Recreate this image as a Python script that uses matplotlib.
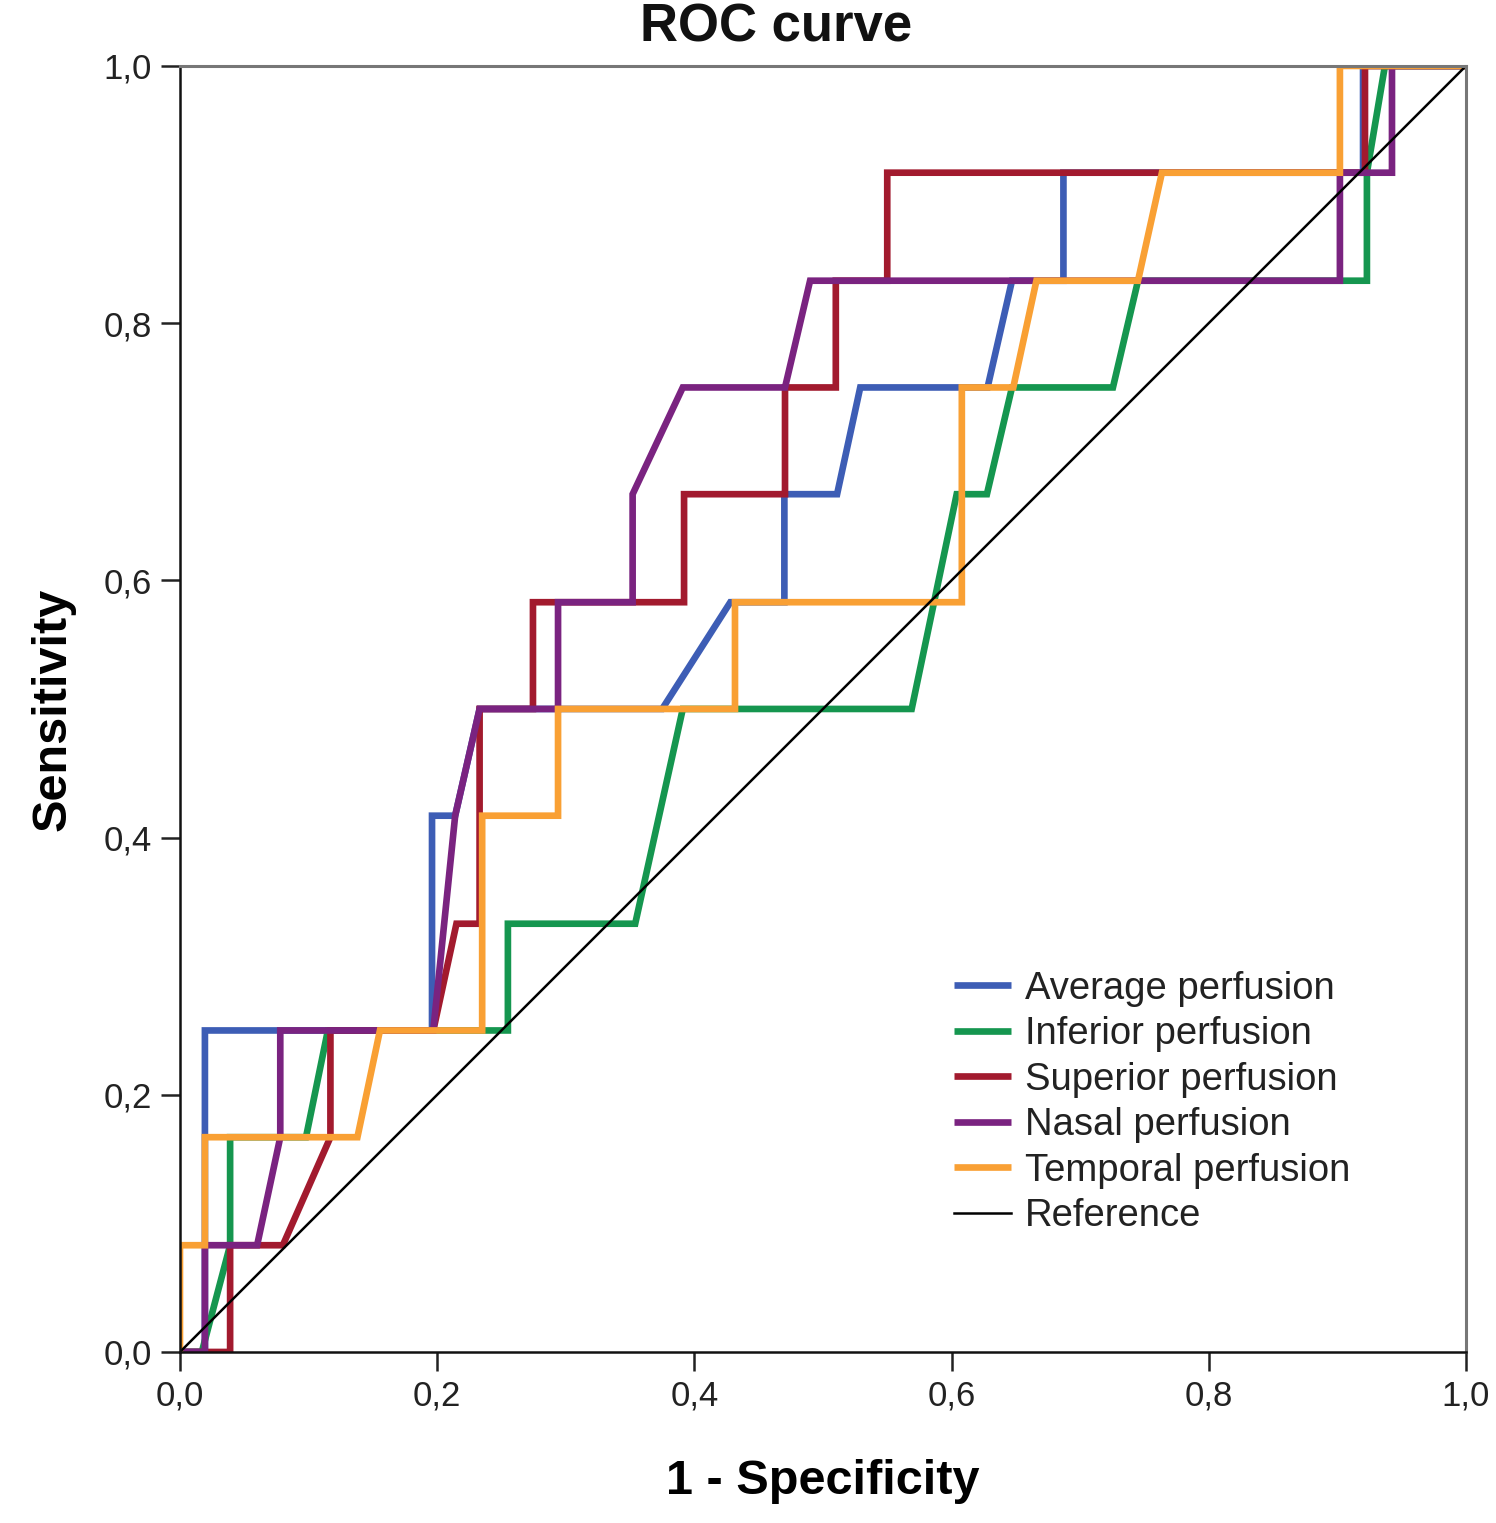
import matplotlib
matplotlib.use("Agg")
import matplotlib.pyplot as plt
from matplotlib.ticker import FuncFormatter

plt.rcParams['font.family'] = ['Liberation Sans', 'DejaVu Sans']

# ROC curve data (1 - specificity, sensitivity)
avg_x = [0, 0.0194, 0.0194, 0.196, 0.196, 0.214, 0.233, 0.375, 0.428, 0.47, 0.47, 0.511, 0.529, 0.628, 0.647, 0.687, 0.687, 0.92, 0.92, 1.0]
avg_y = [0, 0, 0.25, 0.25, 0.417, 0.417, 0.5, 0.5, 0.583, 0.583, 0.667, 0.667, 0.75, 0.75, 0.833, 0.833, 0.917, 0.917, 1.0, 1.0]

inf_x = [0, 0.017, 0.039, 0.039, 0.098, 0.115, 0.255, 0.255, 0.354, 0.391, 0.569, 0.604, 0.6275, 0.647, 0.7255, 0.745, 0.923, 0.923, 0.937, 1.0]
inf_y = [0, 0, 0.083, 0.167, 0.167, 0.25, 0.25, 0.333, 0.333, 0.5, 0.5, 0.667, 0.667, 0.75, 0.75, 0.833, 0.833, 0.917, 1.0, 1.0]

sup_x = [0, 0.039, 0.039, 0.08, 0.117, 0.117, 0.197, 0.215, 0.233, 0.233, 0.2745, 0.2745, 0.392, 0.392, 0.4705, 0.4705, 0.51, 0.51, 0.55, 0.55, 0.9215, 0.9215, 1.0]
sup_y = [0, 0, 0.083, 0.083, 0.167, 0.25, 0.25, 0.333, 0.333, 0.5, 0.5, 0.583, 0.583, 0.667, 0.667, 0.75, 0.75, 0.833, 0.833, 0.917, 0.917, 1.0, 1.0]

nas_x = [0, 0.0194, 0.0194, 0.06, 0.078, 0.078, 0.197, 0.214, 0.233, 0.294, 0.294, 0.352, 0.352, 0.391, 0.4705, 0.49, 0.902, 0.902, 0.9425, 0.9425, 1.0]
nas_y = [0, 0, 0.083, 0.083, 0.167, 0.25, 0.25, 0.417, 0.5, 0.5, 0.583, 0.583, 0.667, 0.75, 0.75, 0.833, 0.833, 0.917, 0.917, 1.0, 1.0]

tem_x = [0, 0, 0.0194, 0.0194, 0.138, 0.1555, 0.235, 0.235, 0.294, 0.294, 0.4316, 0.4316, 0.608, 0.608, 0.648, 0.666, 0.745, 0.7636, 0.902, 0.902, 1.0]
tem_y = [0, 0.083, 0.083, 0.167, 0.167, 0.25, 0.25, 0.417, 0.417, 0.5, 0.5, 0.583, 0.583, 0.75, 0.75, 0.833, 0.833, 0.917, 0.917, 1.0, 1.0]

ref_x = [0, 1]
ref_y = [0, 1]

labels = ["Average perfusion", "Inferior perfusion", "Superior perfusion",
          "Nasal perfusion", "Temporal perfusion", "Reference"]
colors = ["#3D5DB5", "#15964F", "#A21A2E", "#7A2380", "#F9A034", "#000000"]
ticks = [0.0, 0.2, 0.4, 0.6, 0.8, 1.0]

fig = plt.figure(figsize=(14.96, 15.23), dpi=100)
ax = fig.add_axes([0.1203, 0.1123, 0.8596, 0.8444])

series = [(avg_x, avg_y), (inf_x, inf_y), (sup_x, sup_y), (nas_x, nas_y), (tem_x, tem_y)]
for (xs, ys), lab, col in zip(series, labels[:5], colors[:5]):
    ax.plot(xs, ys, color=col, lw=4.8, label=lab, solid_joinstyle='miter', solid_capstyle='butt')
ax.plot(ref_x, ref_y, color=colors[5], lw=1.8, label=labels[5])

ax.set_xlim(0, 1)
ax.set_ylim(0, 1)
ax.set_xticks(ticks)
ax.set_yticks(ticks)
fmt = FuncFormatter(lambda v, p: f"{v:.1f}".replace(".", ","))
ax.xaxis.set_major_formatter(fmt)
ax.yaxis.set_major_formatter(fmt)
ax.tick_params(axis='both', direction='out', length=14, width=1.8, labelsize=25,
               colors='#222222', pad=6)
for s in ['left', 'bottom']:
    ax.spines[s].set_color('#111111')
    ax.spines[s].set_linewidth(1.8)
for s in ['top', 'right']:
    ax.spines[s].set_color('#777777')
    ax.spines[s].set_linewidth(2.2)

fig.text(0.519, 0.982, "ROC curve", fontsize=38, fontweight='bold', color='#111111',
         ha='center', va='center')
ax.set_xlabel("1 - Specificity", fontsize=35, fontweight='bold', labelpad=33)
ax.set_ylabel("Sensitivity", fontsize=35, fontweight='bold', labelpad=20)

leg = ax.legend(loc='upper left', bbox_to_anchor=(0.590, 0.3085), frameon=False,
                fontsize=27.5, handlelength=1.5, handletextpad=0.35, labelspacing=0.25,
                borderaxespad=0)
for t in leg.get_texts():
    t.set_color('#222222')

fig.savefig("out.png", dpi=100)
